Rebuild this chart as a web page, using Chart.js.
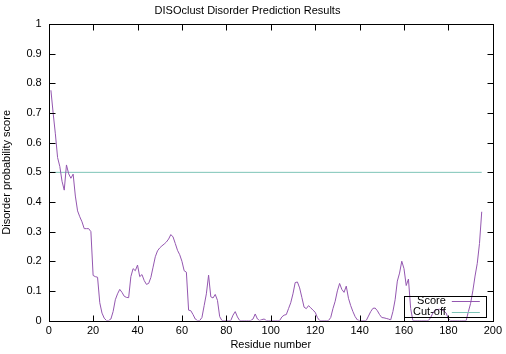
<!DOCTYPE html>
<html>
<head>
<meta charset="utf-8">
<script src="https://cdn.jsdelivr.net/npm/chart.js@4/dist/chart.umd.min.js"></script>
<style>
html,body{margin:0;padding:0;background:#fff;}
canvas{display:block;}
</style>
</head>
<body>
<canvas id="c" width="506" height="354"></canvas>
<script>
const chartTitle = 'DISOclust Disorder Prediction Results';
const xTitle = 'Residue number';
const yTitle = 'Disorder probability score';
const firstResidue = 1;
const scores = [
  0.777,0.70,0.63,0.55,0.52,0.47,0.44,0.525,0.495,0.48,
  0.494,0.42,0.37,0.35,0.333,0.31,0.31,0.31,0.30,0.152,
  0.148,0.146,0.06,0.025,0.008,0.0,0.0,0.005,0.03,0.07,
  0.09,0.105,0.095,0.082,0.078,0.077,0.148,0.175,0.168,0.187,
  0.148,0.155,0.135,0.122,0.125,0.145,0.18,0.215,0.235,0.245,
  0.252,0.258,0.265,0.275,0.29,0.282,0.26,0.237,0.222,0.2,
  0.168,0.163,0.035,0.033,0.02,0.005,0,0,0.01,0.05,
  0.09,0.153,0.08,0.076,0.088,0.068,0.013,0,0,0,
  0,0,0.018,0.03,0.012,0,0,0,0,0,
  0,0.005,0.022,0.005,0,0.003,0.005,0,0,0,
  0,0,0,0,0.012,0.018,0.02,0.04,0.06,0.09,
  0.128,0.13,0.11,0.078,0.045,0.04,0.05,0.043,0.035,0.028,
  0.01,0,0,0,0,0,0.01,0.04,0.065,0.1,
  0.125,0.105,0.095,0.116,0.075,0.05,0.03,0.013,0.002,0,
  0,0,0,0.015,0.03,0.041,0.042,0.033,0.02,0.01,
  0.009,0.007,0.005,0.002,0.03,0.07,0.133,0.16,0.2,0.175,
  0.118,0.14,0.04,0,0,0,0,0,0,0,
  0,0.01,0.025,0.035,0.037,0.038,0.036,0.032,0.025,0.005,
  0,0,0,0,0,0,0,0,0.03,0.058,
  0.1,0.15,0.193,0.26,0.367
];
const cutoffX = [0, 195];
const cutoffY = [0.5, 0.5];
const xTicks = [0,20,40,60,80,100,120,140,160,180,200];
const yTicks = [0,0.1,0.2,0.3,0.4,0.5,0.6,0.7,0.8,0.9,1];

const FONT = 'Liberation Sans, Arial, Helvetica, sans-serif';
const purple = '#9457b0';
const teal = '#7ec4b8';

const frame = {
  id: 'frame',
  afterDatasetsDraw(chart) {
    const ctx = chart.ctx, a = chart.chartArea;
    const xs = chart.scales.x, ys = chart.scales.y;
    ctx.save();
    ctx.strokeStyle = '#000';
    ctx.lineWidth = 1;
    const L = Math.round(a.left)+0.5, R = Math.round(a.right)+0.5, T = Math.round(a.top)+0.5, B = Math.round(a.bottom)+0.5;
    ctx.strokeRect(L, T, R-L, B-T);
    const tl = 6;
    ctx.beginPath();
    xTicks.forEach(v => {
      const p = Math.round(xs.getPixelForValue(v))+0.5;
      ctx.moveTo(p, B); ctx.lineTo(p, B-tl);
      ctx.moveTo(p, T); ctx.lineTo(p, T+tl);
    });
    yTicks.forEach(v => {
      const p = Math.round(ys.getPixelForValue(v))+0.5;
      ctx.moveTo(L, p); ctx.lineTo(L+tl, p);
      ctx.moveTo(R, p); ctx.lineTo(R-tl, p);
    });
    ctx.stroke();
    // legend (gnuplot style, bottom right inside)
    const ds = chart.data.datasets;
    const boxR = a.right - 7, boxB = a.bottom - 4, rowH = 10.5;
    const boxL = boxR - 82, boxT = boxB - 21;
    ctx.strokeRect(Math.round(boxL)+0.5, Math.round(boxT)+0.5, Math.round(boxR-boxL), Math.round(boxB-boxT));
    ctx.font = '11px ' + FONT;
    ctx.textAlign = 'right';
    ctx.textBaseline = 'middle';
    ds.forEach((d, i) => {
      const y = boxT + 5.5 + i*rowH;
      ctx.fillStyle = '#000';
      ctx.fillText(d.label, boxR - 40, y);
      ctx.strokeStyle = d.borderColor;
      ctx.beginPath();
      ctx.moveTo(boxR - 34, Math.round(y)+0.5);
      ctx.lineTo(boxR - 6, Math.round(y)+0.5);
      ctx.stroke();
    });
    ctx.restore();
  }
};

new Chart(document.getElementById('c'), {
  type: 'line',
  data: {
    datasets: [
      {
        label: 'Score',
        data: scores.map((v, i) => ({x: firstResidue + i, y: v})),
        borderColor: purple,
        borderWidth: 1,
        pointRadius: 0,
        tension: 0,
        fill: false
      },
      {
        label: 'Cut-off',
        data: cutoffX.map((x, i) => ({x: x, y: cutoffY[i]})),
        borderColor: teal,
        borderWidth: 1,
        pointRadius: 0,
        tension: 0,
        fill: false
      }
    ]
  },
  options: {
    responsive: false,
    animation: false,
    layout: {padding: {left: 0, right: 11, top: 0, bottom: 0}},
    plugins: {
      legend: {display: false},
      tooltip: {enabled: false},
      title: {
        display: true,
        text: chartTitle,
        color: '#000',
        font: {family: FONT, size: 11, weight: 'normal'},
        padding: {top: 4, bottom: 7}
      }
    },
    scales: {
      x: {
        type: 'linear',
        min: 0, max: 200,
        afterBuildTicks(s) { s.ticks = xTicks.map(v => ({value: v})); },
        ticks: {color: '#000', font: {family: FONT, size: 11}, padding: 4, maxRotation: 0, autoSkip: false},
        grid: {display: false, drawTicks: false},
        border: {display: false},
        title: {display: true, text: xTitle, color: '#000', font: {family: FONT, size: 11}, padding: {top: 0, bottom: 2}},
        afterFit(s) { s.height = 33.5; }
      },
      y: {
        type: 'linear',
        min: 0, max: 1,
        afterBuildTicks(s) { s.ticks = yTicks.map(v => ({value: v})); },
        ticks: {color: '#000', font: {family: FONT, size: 11}, padding: 7, autoSkip: false,
          callback: v => String(Math.round(v*10)/10)},
        grid: {display: false, drawTicks: false},
        border: {display: false},
        title: {display: true, text: yTitle, color: '#000', font: {family: FONT, size: 11}, padding: {top: 0, bottom: 0}},
        afterFit(s) { s.width = 48.7; }
      }
    }
  },
  plugins: [frame]
});
</script>
</body>
</html>
